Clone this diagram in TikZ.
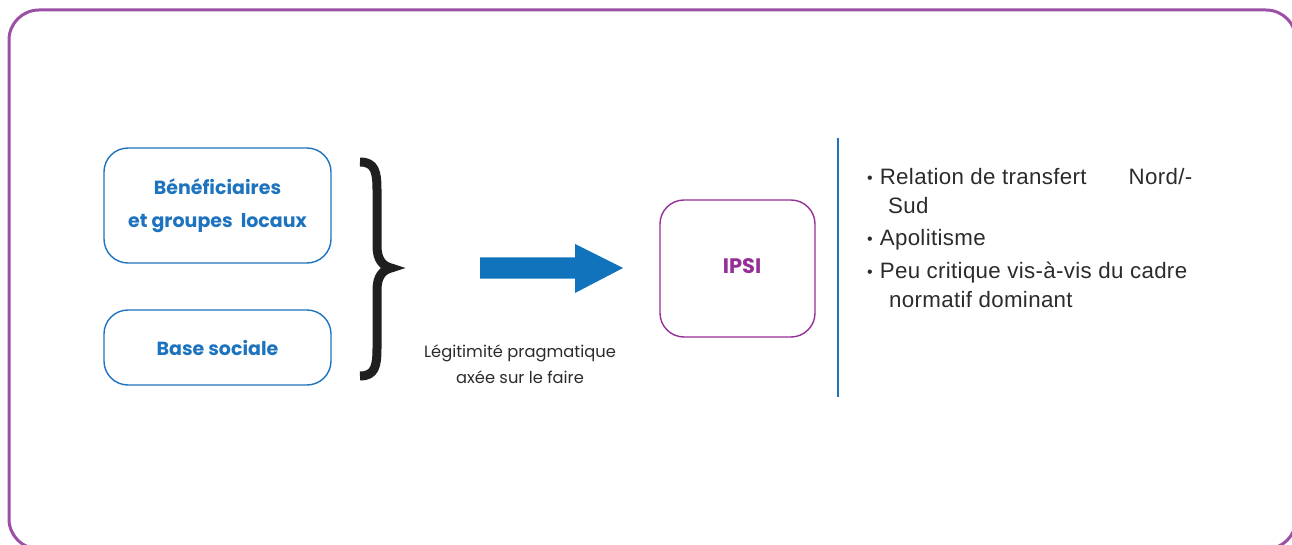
\documentclass[tikz,border=0pt]{standalone}
\usepackage{fontspec}
\usetikzlibrary{calc}
\setmainfont{Liberation Sans}[LetterSpace=1.5]
\newfontfamily\roundfont{Poppins}
\definecolor{framepurple}{HTML}{9B4FA5}
\definecolor{ipsipurple}{HTML}{952F97}
\definecolor{boxblue}{HTML}{1E73BE}
\definecolor{arrowblue}{HTML}{1173BB}
\definecolor{textgray}{HTML}{2B2B2B}
\newcommand{\smallbullet}{\raisebox{1pt}{\fontsize{16}{16}\selectfont•}\hspace{7pt}}
\begin{document}
\begin{tikzpicture}[x=1pt,y=-1pt,
  bluebox/.style={draw=boxblue,line width=1.4pt,rounded corners=24pt,
    text=boxblue,font=\roundfont\bfseries\fontsize{19}{33}\selectfont,
    align=center,inner sep=0pt},
  ipsibox/.style={draw=ipsipurple,line width=1.4pt,rounded corners=24pt,inner sep=0pt},
  caption/.style={text=textgray,font=\roundfont\fontsize{16.3}{26}\selectfont,align=center},
  bullet/.style={text=textgray,font=\fontsize{22.3}{26}\selectfont,anchor=base west,inner sep=0pt}]
\useasboundingbox (0,0) rectangle (1292,545);
% outer frame
\draw[framepurple,line width=3pt,rounded corners=30pt] (9,10) rectangle (1296,549);
% left boxes
\node[bluebox,minimum width=227pt,minimum height=115pt] (benef) at (217.5,205.5)
  {Bénéficiaires\\et groupes\ \ locaux};
\node[bluebox,minimum width=227pt,minimum height=75pt] (base) at (217.5,347.5) {Base sociale};
% brace grouping the two boxes
\coordinate (bracetop) at (360,162);
\coordinate (bracetip) at (391,268);
\coordinate (bracebot) at (360,376);
\draw[black!88,line width=9pt]
  (bracetop) .. controls (375,162) and (377,172) .. (377,190) -- (377,246)
  .. controls (377,260) and (383,266) .. (bracetip)
  .. controls (383,270) and (377,276) .. (377,290) -- (377,348)
  .. controls (377,366) and (375,376) .. (bracebot);
% block arrow
\coordinate (arrtail) at (480,268);
\coordinate (arrtip) at (623,268);
\fill[arrowblue] ($(arrtail)+(0,-10.5)$) -- (575,257.5) -- (575,244) -- (arrtip)
  -- (575,293) -- (575,278.5) -- ($(arrtail)+(0,10.5)$) -- cycle;
\node[caption] (legit) at (520,364) {Légitimité pragmatique\\axée sur le faire};
% IPSI box
\node[ipsibox,minimum width=155pt,minimum height=137pt] (ipsi) at (737.5,268.5) {};
\node[text=ipsipurple,font=\roundfont\bfseries\fontsize{21}{24}\selectfont,inner sep=0pt]
  (ipsilabel) at (742,266.5) {IPSI};
% separator
\coordinate (septop) at (838,138);
\coordinate (sepbot) at (838,397);
\draw[boxblue,line width=1.4pt] (septop) -- (sepbot);
% characteristics
\node[bullet] (b1) at (867,185) {\smallbullet Relation de transfert\hspace{42pt}Nord/-};
\node[bullet] (b1b) at (888,214) {Sud};
\node[bullet] (b2) at (867,246) {\smallbullet Apolitisme};
\node[bullet] (b3) at (867,278) {\smallbullet Peu critique vis-à-vis du cadre};
\node[bullet] (b3b) at (889,307) {normatif dominant};
\end{tikzpicture}
\end{document}
